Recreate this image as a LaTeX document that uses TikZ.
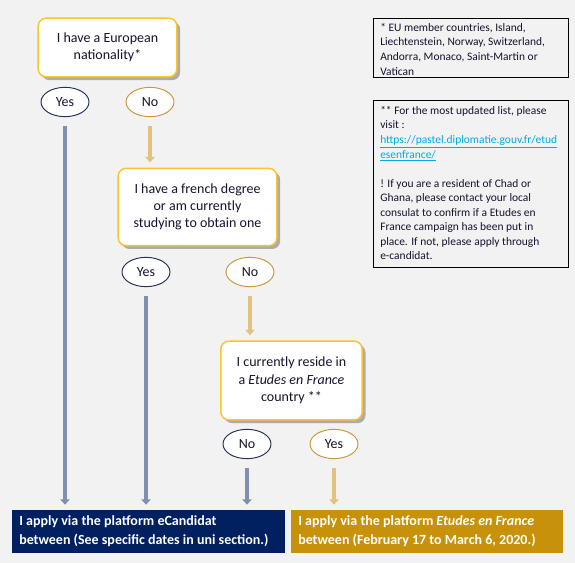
\documentclass[tikz,border=0pt]{standalone}
\usepackage{fontspec}
\setmainfont{Carlito}
\usepackage{tikz}
\usetikzlibrary{positioning,calc,shapes.geometric,arrows.meta,shadows}
\definecolor{BgGray}{RGB}{242,242,242}
\definecolor{UniNavy}{RGB}{0,32,96}
\definecolor{EefGold}{RGB}{200,145,10}
\definecolor{BoxGold}{RGB}{250,195,50}
\definecolor{YesBlue}{RGB}{38,48,92}
\definecolor{NoGold}{RGB}{205,150,60}
\definecolor{ArrBlue}{RGB}{128,143,175}
\definecolor{ArrTan}{RGB}{226,194,126}
\definecolor{NoteInk}{RGB}{20,20,45}
\definecolor{LinkBlue}{RGB}{0,170,235}

\begin{document}
\begin{tikzpicture}[x=0.75pt, y=-0.75pt,
    question/.style={draw=BoxGold, line width=1.1pt, fill=white, rounded corners=6pt,
      align=center, inner sep=2pt, font=\fontsize{10.5}{13}\selectfont, text=NoteInk,
      drop shadow={shadow xshift=2.5pt, shadow yshift=-2.5pt, fill=gray!65, opacity=1}},
    answer/.style={ellipse, fill=white, line width=0.7pt, minimum width=36pt, minimum height=22pt,
      inner sep=0pt, font=\fontsize{10.5}{13}\selectfont, text=NoteInk},
    yesanswer/.style={answer, draw=YesBlue},
    noanswer/.style={answer, draw=NoGold},
    outcome/.style={anchor=north west, inner sep=0pt, text=white, align=left,
      font=\fontsize{10.5}{14}\selectfont\bfseries},
    note/.style={draw=black, line width=0.7pt, anchor=north west, align=left, inner sep=0pt,
      text=NoteInk, font=\fontsize{8.6}{10.9}\selectfont},
    flow/.style={line width=3pt, -{Triangle[width=7pt,length=4pt]}, shorten <=7pt, shorten >=4pt}
  ]
  % Background
  \fill[BgGray] (0,0) rectangle (575,563);

  % Questions
  \node[question, minimum width=104pt, minimum height=44pt] (europe) at (107.5,47.5)
    {I have a European\\nationality*};
  \node[question, minimum width=119pt, minimum height=58pt] (degree) at (197.5,207)
    {I have a french degree\\or am currently\\studying to obtain one};
  \node[question, minimum width=106pt, minimum height=59pt] (reside) at (291.5,380.5)
    {I currently reside in\\a \textit{Etudes en France}\\country **};

  % Answers
  \node[yesanswer] (yesEU) at (65,102) {Yes};
  \node[noanswer] (noEU) at (150,102) {No};
  \node[yesanswer] (yesDeg) at (146,272) {Yes};
  \node[noanswer] (noDeg) at (250,272) {No};
  \node[yesanswer] (noRes) at (247,444) {No};
  \node[noanswer] (yesRes) at (334,444) {Yes};

  % Outcomes
  \fill[UniNavy] (12,510) rectangle (285,553);
  \fill[EefGold] (291,510) rectangle (563,553);
  \node[outcome, minimum width=204pt, minimum height=32pt] (ecandidat) at (12,510) {};
  \node[outcome, minimum width=204pt, minimum height=32pt] (eef) at (291,510) {};
  \node[outcome, anchor=west] at (19,531.5)
    {I apply via the platform eCandidat\\between (See specific dates in uni section.)};
  \node[outcome, anchor=west] at (298,531.5)
    {I apply via the platform \textit{Etudes en France}\\between (February 17 to March 6, 2020.)};

  % Arrows
  \draw[flow, ArrBlue] (yesEU) -- (yesEU |- ecandidat.north);
  \draw[flow, ArrTan] (noEU) -- (noEU |- degree.north);
  \draw[flow, ArrBlue] (yesDeg) -- (yesDeg |- ecandidat.north);
  \draw[flow, ArrTan] (noDeg) -- (noDeg |- reside.north);
  \draw[flow, ArrBlue] (noRes) -- (noRes |- ecandidat.north);
  \draw[flow, ArrTan] (yesRes) -- (yesRes |- eef.north);

  % Notes
  \node[note, minimum width=146pt, minimum height=44pt] (euNote) at (373,18) {};
  \node[anchor=north west, inner sep=0pt, align=left, text=NoteInk,
    font=\fontsize{8.6}{10.9}\selectfont] (euText) at (380,23)
    {* EU member countries, Island,\\Liechtenstein, Norway, Switzerland,\\Andorra, Monaco, Saint-Martin or\\Vatican};
  \node[note, minimum width=146pt, minimum height=125pt] (listNote) at (373,100) {};
  \node[anchor=north west, inner sep=0pt, align=left, text=NoteInk,
    font=\fontsize{8.6}{10.9}\selectfont] (listText) at (380,106)
    {** For the most updated list, please\\visit :\\
     \textcolor{LinkBlue}{\underline{https://pastel.diplomatie.gouv.fr/etud}}\\
     \textcolor{LinkBlue}{\underline{esenfrance/}}\\[10.9pt]
     ! If you are a resident of Chad or\\Ghana, please contact your local\\consulat to confirm if a Etudes en\\
     France campaign has been put in\\place. If not, please apply through\\e-candidat.};
\end{tikzpicture}
\end{document}
